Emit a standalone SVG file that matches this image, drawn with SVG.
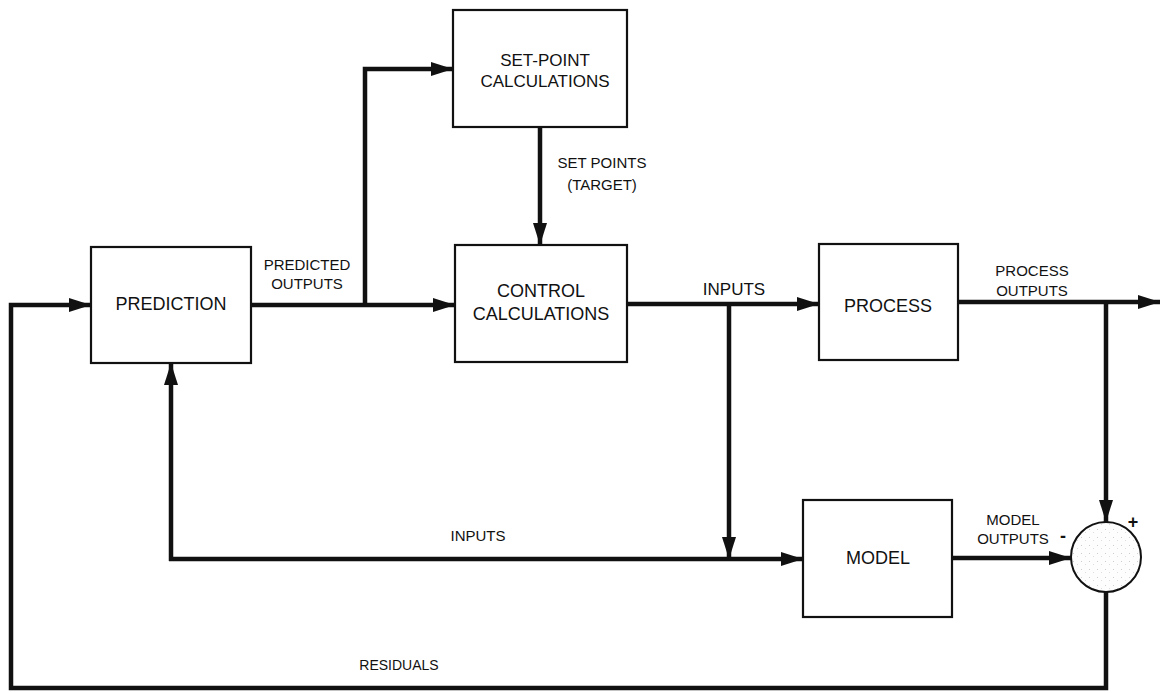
<svg xmlns="http://www.w3.org/2000/svg" width="1167" height="693" viewBox="0 0 1167 693">
<style>
.box{fill:#fff;stroke:#111;stroke-width:2.2}
.ln{fill:none;stroke:#111;stroke-width:4.5;stroke-linejoin:miter}
.big{font-family:"Liberation Sans",Arial,sans-serif;font-size:18px;fill:#111;text-anchor:middle}
.sm{font-family:"Liberation Sans",Arial,sans-serif;font-size:15px;fill:#111;text-anchor:middle}
</style>
<defs>
<marker id="ah" markerUnits="userSpaceOnUse" markerWidth="24" markerHeight="16" refX="22" refY="7" orient="auto">
<path d="M0,0 L22,7 L0,14 Z" fill="#111"/>
</marker>
<pattern id="dots" width="8" height="8" patternUnits="userSpaceOnUse">
<rect width="8" height="8" fill="#fdfdfd"/>
<rect x="1" y="1" width="1" height="1" fill="#d0d0d0"/>
<rect x="5" y="4" width="1" height="1" fill="#dcdcdc"/>
</pattern>
</defs>
<g id="connectors">
<polyline class="ln" points="1106,592 1106,688 11,688 11,305 91,305" marker-end="url(#ah)"/>
<line class="ln" x1="251" y1="305" x2="455" y2="305" marker-end="url(#ah)"/>
<polyline class="ln" points="365,305 365,69 453,69" marker-end="url(#ah)"/>
<line class="ln" x1="540" y1="127" x2="540" y2="245" marker-end="url(#ah)"/>
<line class="ln" x1="627" y1="304" x2="819" y2="304" marker-end="url(#ah)"/>
<line class="ln" x1="729" y1="304" x2="729" y2="559" marker-end="url(#ah)"/>
<line class="ln" x1="171" y1="561" x2="171" y2="363" marker-end="url(#ah)"/>
<line class="ln" x1="169" y1="559" x2="803" y2="559" marker-end="url(#ah)"/>
<line class="ln" x1="958" y1="302" x2="1160" y2="302" marker-end="url(#ah)"/>
<line class="ln" x1="1106" y1="302" x2="1106" y2="522" marker-end="url(#ah)"/>
<line class="ln" x1="952" y1="558" x2="1071" y2="558" marker-end="url(#ah)"/>
<text class="sm" x="307" y="270">PREDICTED</text>
<text class="sm" x="307" y="289">OUTPUTS</text>
<text class="sm" x="602" y="168">SET POINTS</text>
<text class="sm" x="602" y="190">(TARGET)</text>
<text class="big" x="734" y="295" style="font-size:17px">INPUTS</text>
<text class="sm" x="1032" y="276">PROCESS</text>
<text class="sm" x="1032" y="296">OUTPUTS</text>
<text class="sm" x="478" y="541">INPUTS</text>
<text class="sm" x="1013" y="525">MODEL</text>
<text class="sm" x="1013" y="544">OUTPUTS</text>
<text class="sm" x="399" y="670" style="font-size:14px">RESIDUALS</text>
</g>
<g id="prediction">
<rect class="box" x="91" y="247" width="160" height="116"/>
<text class="big" x="171" y="310">PREDICTION</text>
</g>
<g id="setpoint">
<rect class="box" x="453" y="10" width="174" height="117"/>
<text class="big" x="545" y="66" style="font-size:17px">SET-POINT</text>
<text class="big" x="545" y="87" style="font-size:17px">CALCULATIONS</text>
</g>
<g id="control">
<rect class="box" x="455" y="245" width="172" height="117"/>
<text class="big" x="541" y="297">CONTROL</text>
<text class="big" x="541" y="320">CALCULATIONS</text>
</g>
<g id="process">
<rect class="box" x="819" y="244" width="139" height="116"/>
<text class="big" x="888" y="312">PROCESS</text>
</g>
<g id="model">
<rect class="box" x="803" y="500" width="149" height="117"/>
<text class="big" x="878" y="564">MODEL</text>
</g>
<g id="summer">
<circle cx="1106" cy="557" r="35" fill="url(#dots)" stroke="#111" stroke-width="2"/>
<text class="big" x="1133" y="528" style="font-weight:bold">+</text>
<text class="big" x="1063" y="542" style="font-weight:bold">-</text>
</g>
</svg>
